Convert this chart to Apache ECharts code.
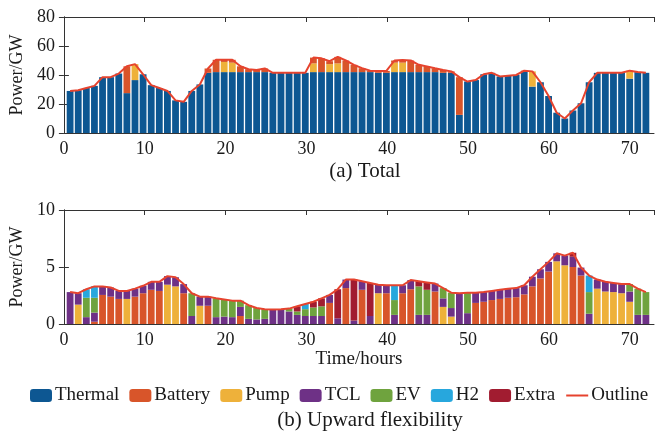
<!DOCTYPE html>
<html>
<head>
<meta charset="utf-8">
<script src="https://cdn.jsdelivr.net/npm/echarts@6/dist/echarts.min.js"></script>
<style>
  html, body { margin: 0; padding: 0; background: #fff; }
  #chart { width: 657px; height: 434px; }
</style>
</head>
<body>
<div id="chart"></div>
<script>
// hours on the x axis
const hours = [1, 2, 3, 4, 5, 6, 7, 8, 9, 10, 11, 12, 13, 14, 15, 16, 17, 18, 19, 20,
  21, 22, 23, 24, 25, 26, 27, 28, 29, 30, 31, 32, 33, 34, 35, 36, 37, 38, 39, 40,
  41, 42, 43, 44, 45, 46, 47, 48, 49, 50, 51, 52, 53, 54, 55, 56, 57, 58, 59, 60,
  61, 62, 63, 64, 65, 66, 67, 68, 69, 70, 71, 72];

// (a) Total, GW
const totalThermal = [29, 29.5, 31, 32.5, 38.5, 38.5, 41, 27.5, 36.5, 40.5,
  33, 31, 29, 22.5, 21.5, 29, 33.5, 41.5, 42, 42,
  42, 42, 42, 42, 42, 41.5, 41.5, 41.5, 41.5, 41.5,
  42, 42, 42, 42, 42, 42, 42, 42, 41.5, 41.5,
  42, 42, 42, 42, 42, 42, 41.5, 41.5, 12.5, 35.5,
  36.5, 40.5, 41.5, 39, 39.5, 40, 42.5, 32, 35, 25.5,
  14, 10, 15.5, 20.5, 35, 41.5, 41.5, 41.5, 41.5, 37.5,
  42, 41.5];
const totalPump = [0, 0, 0, 0, 0, 0, 0, 0, 11, 0,
  0, 0, 0, 0, 0, 0, 0, 0, 0, 7,
  6.5, 0, 0, 0, 0, 0, 0, 0, 0, 0,
  6, 0, 5.5, 6, 0, 0, 0, 0, 0, 0,
  6.5, 6.5, 0, 0, 0, 0, 0, 0, 0, 0,
  0, 0, 0, 0, 0, 0, 0, 10.5, 0, 0,
  0, 0, 0, 0, 0, 0, 0, 0, 0, 5.5,
  0, 0];
const totalBattery = [0, 0, 0, 0, 0, 0, 0, 18.5, 0, 0,
  0, 0, 0, 0, 0, 0, 0, 3, 8.5, 1.5,
  2, 4, 2, 1.5, 2.5, 0, 0, 0, 0, 0,
  4, 9.5, 2, 4.5, 8, 5, 2.7, 1, 1.2, 1.3,
  1.5, 1.8, 8, 5, 3.8, 2.6, 2, 1, 26, 0,
  0, 0, 0, 0, 0, 0, 0.5, 0, 0, 0,
  0, 0, 0, 0, 0, 0, 0, 0, 0, 0,
  0, 0];

// (b) Upward flexibility, GW
const upBattery = [0, 0, 0, 0.2, 2.55, 2.4, 2.2, 0, 2.4, 2.7,
  3.0, 2.9, 0, 0, 2.7, 0, 0, 1.6, 0, 0,
  0, 0.7, 0, 0, 0, 0, 0, 0, 0, 0,
  0, 0, 1.85, 0, 3.15, 0, 3.0, 0, 0, 2.7,
  0, 2.7, 3.05, 0, 0, 2.85, 0, 0, 0, 0,
  1.85, 1.95, 2.1, 2.2, 2.3, 2.35, 2.6, 3.3, 4.0, 4.6,
  0, 0, 5.0, 4.25, 0, 0, 0, 0, 0, 0,
  0, 0];
const upPump = [0, 1.7, 0, 0, 0, 0, 0, 2.2, 0, 0,
  0, 0, 3.45, 3.3, 0, 0, 1.6, 0, 0, 0,
  0, 0, 0, 0, 0, 0, 0, 0, 0, 0,
  0, 0, 0, 0, 0, 0, 0, 0, 2.7, 0,
  0, 0, 0, 0, 0, 0, 1.5, 0.65, 0, 0,
  0, 0, 0, 0, 0, 0, 0, 0, 0, 0,
  5.5, 5.15, 0, 0, 0, 3.1, 2.85, 2.8, 2.7, 1.95,
  0, 0];
const upTCL = [2.8, 1.0, 0.6, 0.8, 0.75, 0.8, 0.7, 0.7, 0.7, 0.65,
  0.7, 0.8, 0.75, 0.8, 0.8, 0.7, 0.8, 0.8, 0.6, 0.65,
  0.6, 0.8, 0.45, 0.4, 0.45, 1.28, 1.3, 1.1, 0.8, 0.7,
  0.7, 0.7, 0.7, 0.5, 0.75, 0.3, 0.75, 0.7, 0.75, 0.7,
  0.8, 0.7, 0.8, 0.8, 0.8, 0.7, 0.75, 0.75, 2.7, 0.95,
  0.9, 0.85, 0.8, 0.8, 0.8, 0.8, 0.8, 0.85, 0.8, 0.85,
  0.7, 0.85, 0.9, 0.7, 0.9, 0.8, 0.85, 0.8, 0.8, 0.9,
  0.8, 0.8];
const upEV = [0, 0, 1.7, 1.3, 0, 0, 0, 0, 0, 0,
  0, 0, 0, 0, 0, 2.0, 0, 0, 1.65, 1.5,
  1.45, 0.55, 1.2, 1.0, 0.85, 0, 0, 0.25, 0.3, 0.6,
  0.75, 0.85, 0, 0, 0, 0, 0, 0, 0, 0,
  1.3, 0, 0, 2.5, 2.2, 0, 0.9, 1.35, 0, 1.8,
  0, 0, 0, 0, 0, 0, 0, 0, 0, 0,
  0, 0, 0, 0, 1.9, 0, 0, 0, 0, 0.65,
  2.3, 2.0];
const upH2 = [0, 0, 0.75, 1.0, 0, 0, 0, 0, 0, 0,
  0, 0, 0, 0, 0, 0, 0, 0, 0, 0,
  0, 0, 0, 0, 0, 0, 0, 0, 0, 0.45,
  0, 0, 0, 0, 0, 0, 0, 0, 0, 0,
  1.3, 0, 0, 0, 0, 0, 0, 0, 0, 0,
  0, 0, 0, 0, 0, 0, 0, 0, 0, 0,
  0, 0, 0, 0, 1.45, 0, 0, 0, 0, 0,
  0, 0];
const upExtra = [0, 0, 0, 0, 0, 0, 0, 0, 0, 0,
  0, 0, 0, 0, 0, 0, 0, 0, 0, 0,
  0, 0, 0, 0, 0, 0, 0, 0, 0.45, 0,
  0.5, 0.7, 0, 2.55, 0, 3.6, 0, 2.9, 0, 0,
  0, 0, 0, 0.45, 0.65, 0, 0, 0, 0, 0,
  0, 0, 0, 0, 0, 0, 0, 0, 0, 0,
  0, 0, 0.35, 0, 0, 0, 0, 0, 0, 0,
  0, 0];

const colors = {
  Thermal: '#0d5792',
  Battery: '#d8552a',
  Pump: '#eeb13a',
  TCL: '#6e3186',
  EV: '#6fa33e',
  H2: '#27a7dd',
  Extra: '#a11c30',
  Outline: '#e6432e'
};

const font = 'Liberation Serif';
const textColor = '#1a1a1a';
// x range of the frame is 0..73 h; bars sit in their own grid from 0.5 to 72.5 h
const plotLeft = 62, plotWidth = 592, xMax = 73;
const pxPerHour = plotWidth / xMax;
const sumOf = (...arrs) => hours.map((h, i) => +arrs.reduce((s, a) => s + a[i], 0).toFixed(3));

const chart = echarts.init(document.getElementById('chart'));

const axisLineStyle = { color: '#333', width: 1 };
const tickStyle = { inside: true, length: 5, lineStyle: { color: '#333' } };
const labelStyle = { color: textColor, fontFamily: font, fontSize: 18 };

function xFrame(grid, pos, withLabels, name) {
  return {
    type: 'value', gridIndex: grid, position: pos, min: 0, max: xMax, interval: 10,
    axisLine: { show: true, onZero: false, lineStyle: axisLineStyle },
    axisTick: tickStyle,
    axisLabel: withLabels ? { ...labelStyle, margin: 7, showMaxLabel: false } : { show: false },
    splitLine: { show: false },
    name: name || '',
    nameLocation: 'middle', nameGap: 16,
    nameTextStyle: { color: textColor, fontFamily: font, fontSize: 19 }
  };
}
function yFrame(grid, pos, max, step, withLabels) {
  return {
    type: 'value', gridIndex: grid, position: pos, min: 0, max: max, interval: step,
    axisLine: { show: true, lineStyle: axisLineStyle },
    axisTick: tickStyle,
    axisLabel: withLabels ? { ...labelStyle, margin: 9 } : { show: false },
    splitLine: { show: false },
    name: withLabels ? 'Power/GW' : '',
    nameLocation: 'middle', nameGap: 24,
    nameTextStyle: { color: textColor, fontFamily: font, fontSize: 18 }
  };
}
function xBars(grid) {
  return {
    type: 'category', gridIndex: grid, data: hours, boundaryGap: true,
    axisLine: { show: false }, axisTick: { show: false }, axisLabel: { show: false }
  };
}
function yBars(grid, max) {
  return {
    type: 'value', gridIndex: grid, min: 0, max: max,
    axisLine: { show: false }, axisTick: { show: false }, axisLabel: { show: false },
    splitLine: { show: false }
  };
}

function bar(name, data, ax, stack) {
  return {
    name: name, type: 'bar', xAxisIndex: ax, yAxisIndex: ax, stack: stack,
    barWidth: 6.8, data: data, itemStyle: { color: colors[name] },
    emphasis: { disabled: true }
  };
}
function outline(data, ax) {
  return {
    name: 'Outline', type: 'line', xAxisIndex: ax, yAxisIndex: ax, data: data,
    symbol: 'none', z: 5, lineStyle: { color: colors.Outline, width: 2 },
    itemStyle: { color: colors.Outline }, emphasis: { disabled: true }
  };
}

const barGridLeft = plotLeft + pxPerHour * 0.5;
const barGridWidth = pxPerHour * hours.length;

chart.setOption({
  animation: false,
  grid: [
    { left: plotLeft, top: 17, width: plotWidth, height: 116 },
    { left: plotLeft, top: 210, width: plotWidth, height: 114 },
    { left: barGridLeft, top: 17, width: barGridWidth, height: 116 },
    { left: barGridLeft, top: 210, width: barGridWidth, height: 114 }
  ],
  xAxis: [
    xFrame(0, 'bottom', true),
    xFrame(1, 'bottom', true, 'Time/hours'),
    xFrame(0, 'top', false),
    xFrame(1, 'top', false),
    xBars(2),
    xBars(3)
  ],
  yAxis: [
    yFrame(0, 'left', 80, 20, true),
    yFrame(1, 'left', 10, 5, true),
    yFrame(0, 'right', 80, 20, false),
    yFrame(1, 'right', 10, 5, false),
    yBars(2, 80),
    yBars(3, 10)
  ],
  legend: {
    data: ['Thermal', 'Battery', 'Pump', 'TCL', 'EV', 'H2', 'Extra',
      { name: 'Outline', itemStyle: { opacity: 0 } }],
    left: 30, top: 386, width: 627, padding: 0,
    itemWidth: 22, itemHeight: 13, itemGap: 10,
    textStyle: { color: textColor, fontFamily: font, fontSize: 19, padding: [0, 0, 0, -2] }
  },
  graphic: [
    { type: 'text', x: 365, y: 171, style: { text: '(a) Total', font: '21px "Liberation Serif"', fill: textColor, align: 'center', verticalAlign: 'middle' } },
    { type: 'text', x: 370, y: 420, style: { text: '(b) Upward flexibility', font: '21px "Liberation Serif"', fill: textColor, align: 'center', verticalAlign: 'middle' } }
  ],
  series: [
    bar('Thermal', totalThermal, 4, 'total'),
    bar('Pump', totalPump, 4, 'total'),
    bar('Battery', totalBattery, 4, 'total'),
    outline(sumOf(totalThermal, totalPump, totalBattery), 4),
    bar('Battery', upBattery, 5, 'up'),
    bar('Pump', upPump, 5, 'up'),
    bar('TCL', upTCL, 5, 'up'),
    bar('EV', upEV, 5, 'up'),
    bar('H2', upH2, 5, 'up'),
    bar('Extra', upExtra, 5, 'up'),
    outline(sumOf(upBattery, upPump, upTCL, upEV, upH2, upExtra), 5)
  ]
});
</script>
</body>
</html>
